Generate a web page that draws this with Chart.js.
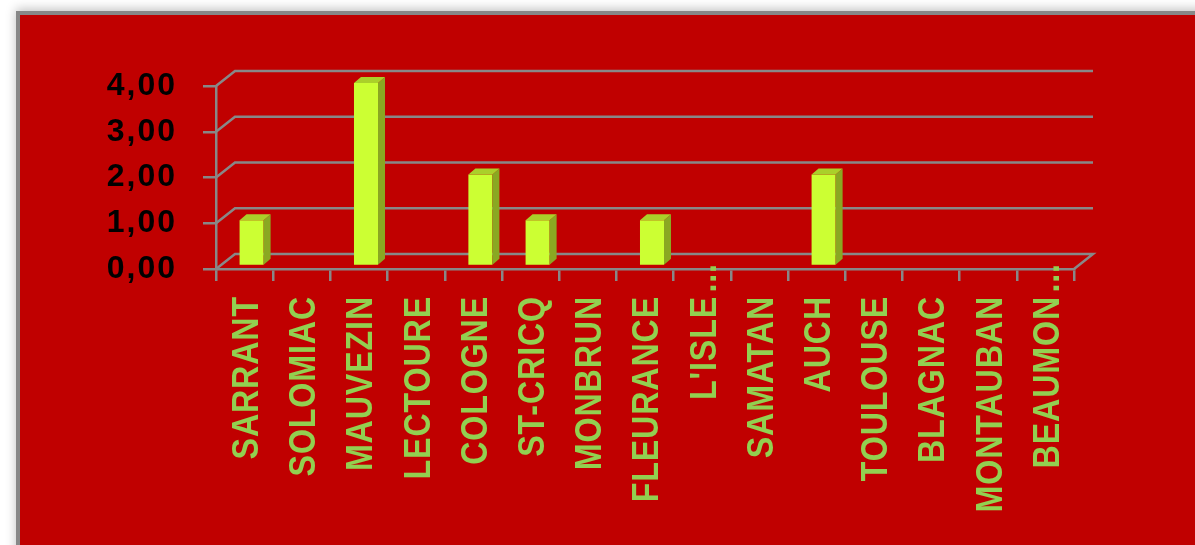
<!DOCTYPE html>
<html>
<head>
<meta charset="utf-8">
<script src="https://cdn.jsdelivr.net/npm/chart.js@4"></script>
<style>
  html, body { margin: 0; padding: 0; background: #fff; overflow: hidden; }
  #panel {
    position: absolute; left: 16px; top: 11px; width: 1200px; height: 560px;
    background: #C00000;
    border-left: 4px solid #888; border-top: 4px solid #888;
    box-shadow: 0 -2px 10px rgba(0,0,0,0.25);
  }
  #dataChart { position: absolute; left: 0; top: 0; }
</style>
</head>
<body>
<div id="panel"></div>
<canvas id="dataChart" width="1195" height="545"></canvas>
<script>
// town names along the x axis
const categories = ['SARRANT', 'SOLOMIAC', 'MAUVEZIN', 'LECTOURE', 'COLOGNE', 'ST-CRICQ', 'MONBRUN',
  'FLEURANCE', "L'ISLE...", 'SAMATAN', 'AUCH', 'TOULOUSE', 'BLAGNAC', 'MONTAUBAN', 'BEAUMON...'];
// bar heights
const values = [1, 0, 4, 0, 2, 1, 0, 1, 0, 0, 2, 0, 0, 0, 0];
// y axis tick values
const yTicks = [0, 1, 2, 3, 4];

const gridColor = '#888888';
const labelColor = '#92D050';
const depthX = 19, depthY = -15;   // back wall offset
const barDX = 7, barDY = -6;       // bar depth
const barShiftX = 7, barShiftY = -3;

// draws the back wall lines and the side/top faces of the bars
const depthPlugin = {
  id: 'depth3d',
  beforeDraw(chart) {
    chart.ctx.letterSpacing = '2px';
  },
  beforeDatasetsDraw(chart) {
    const { ctx, chartArea } = chart;
    const yScale = chart.scales.y;
    ctx.save();
    ctx.strokeStyle = gridColor;
    ctx.lineWidth = 2.5;
    yTicks.forEach(v => {
      const y = yScale.getPixelForValue(v);
      ctx.beginPath();
      ctx.moveTo(chartArea.left, y);
      ctx.lineTo(chartArea.left + depthX, y + depthY);
      ctx.lineTo(chartArea.right + depthX, y + depthY);
      if (v === 0) ctx.lineTo(chartArea.right, y);
      ctx.stroke();
    });
    ctx.restore();
    ctx.save();
    ctx.translate(barShiftX, barShiftY);
  },
  afterDatasetsDraw(chart) {
    const ctx = chart.ctx;
    const meta = chart.getDatasetMeta(0);
    meta.data.forEach((bar, i) => {
      if (!values[i]) return;
      const left = bar.x - bar.width / 2;
      const right = bar.x + bar.width / 2;
      // side
      ctx.fillStyle = '#8AA822';
      ctx.beginPath();
      ctx.moveTo(right, bar.y);
      ctx.lineTo(right + barDX, bar.y + barDY);
      ctx.lineTo(right + barDX, bar.base + barDY);
      ctx.lineTo(right, bar.base);
      ctx.closePath();
      ctx.fill();
      // top
      ctx.fillStyle = '#AAD02A';
      ctx.beginPath();
      ctx.moveTo(left, bar.y);
      ctx.lineTo(left + barDX, bar.y + barDY);
      ctx.lineTo(right + barDX, bar.y + barDY);
      ctx.lineTo(right, bar.y);
      ctx.closePath();
      ctx.fill();
    });
    ctx.restore();
  }
};

// vertical, slightly condensed category labels (Excel style, "..." runs past the end)
const labelPlugin = {
  id: 'vlabels',
  afterDraw(chart) {
    const ctx = chart.ctx;
    const xScale = chart.scales.x;
    const top = xScale.top + 27;
    const fontSize = 37;
    ctx.save();
    ctx.font = 'bold ' + fontSize + "px 'Liberation Sans', Arial, sans-serif";
    ctx.fillStyle = labelColor;
    ctx.letterSpacing = '1px';
    ctx.textBaseline = 'alphabetic';
    categories.forEach((name, i) => {
      const x = xScale.getPixelForTick(i);
      let main = name, tail = '';
      if (name.endsWith('...')) { main = name.slice(0, -3); tail = '...'; }
      ctx.save();
      ctx.translate(x + fontSize * 0.36, top);
      ctx.rotate(-Math.PI / 2);
      ctx.scale(0.87, 1);
      ctx.textAlign = 'right';
      ctx.fillText(main, 0, 0);
      if (tail) {
        ctx.textAlign = 'left';
        ctx.fillText(tail, 4, 0);
      }
      ctx.restore();
    });
    ctx.restore();
  }
};

const ctx = document.getElementById('dataChart').getContext('2d');
const chart = new Chart(ctx, {
  type: 'bar',
  data: {
    labels: categories,
    datasets: [{
      data: values,
      backgroundColor: '#CCFF33',
      borderWidth: 0,
      categoryPercentage: 1,
      barPercentage: 0.42
    }]
  },
  options: {
    responsive: false,
    animation: false,
    layout: { padding: { left: 96, top: 86, right: 121, bottom: 6 } },
    plugins: { legend: { display: false }, tooltip: { enabled: false } },
    scales: {
      x: {
        afterFit: scale => { scale.height = 270; },
        grid: { drawOnChartArea: false, tickLength: 12, color: gridColor, lineWidth: 2.5, offset: true },
        border: { color: gridColor, width: 2.5 },
        ticks: { display: false, autoSkip: false }
      },
      y: {
        min: 0, max: 4,
        afterFit: scale => { scale.width = 120; },
        grid: { drawOnChartArea: false, tickLength: 13, color: gridColor, lineWidth: 2.5 },
        border: { color: gridColor, width: 2.5 },
        ticks: {
          stepSize: 1, padding: 26, color: '#000',
          font: { family: "'Liberation Sans', Arial, sans-serif", size: 32, weight: 'bold' },
          callback: v => v.toFixed(2).replace('.', ',')
        }
      }
    }
  },
  plugins: [depthPlugin, labelPlugin]
});
</script>
</body>
</html>
